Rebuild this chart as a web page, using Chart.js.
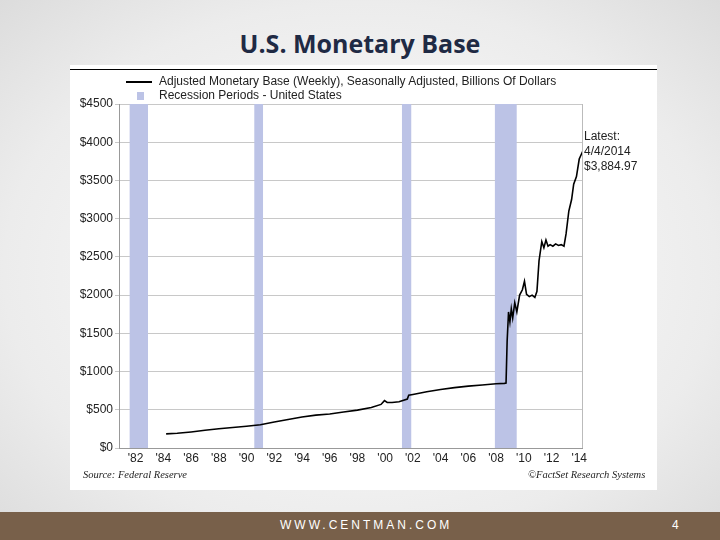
<!DOCTYPE html>
<html><head><meta charset="utf-8">
<script src="https://cdn.jsdelivr.net/npm/chart.js@4"></script>
<style>
body{margin:0;width:720px;height:540px;position:relative;overflow:hidden;font-family:"Liberation Sans",Arial,sans-serif;
 background:radial-gradient(ellipse at center,#ffffff 0%,#ececec 70%,#dcdcdc 100%);}
#title{position:absolute;top:26px;left:0;width:720px;text-align:center;font-family:"Open Sans","Noto Sans",sans-serif;font-weight:bold;font-size:25px;color:#1f2a44;}
#box{position:absolute;left:70px;top:65px;width:587px;height:425px;background:#fff;}
#topline{position:absolute;left:0;top:4px;width:587px;height:1px;background:#000;}
canvas{position:absolute;left:0;top:0;}
.leg{position:absolute;font-size:12px;color:#222;}
.src{position:absolute;top:404px;font-family:"Liberation Serif",serif;font-style:italic;font-size:10.5px;color:#222;}
#latest{position:absolute;left:514px;top:64px;font-size:12px;color:#222;line-height:15px;}
#bar{position:absolute;left:0;top:512px;width:720px;height:28px;background:#78604a;}
#bar div{position:absolute;top:6px;color:#fff;font-size:12px;}
</style></head><body>
<div id="title">U.S. Monetary Base</div>
<div id="box">
 <div id="topline"></div>
 <canvas id="c" width="587" height="425"></canvas>
 <div style="position:absolute;left:56px;top:16px;width:26px;height:1.5px;background:#000"></div>
 <div class="leg" style="left:89px;top:9px">Adjusted Monetary Base (Weekly), Seasonally Adjusted, Billions Of Dollars</div>
 <div style="position:absolute;left:67px;top:27px;width:7px;height:8px;background:#bcc3e6"></div>
 <div class="leg" style="left:89px;top:23px">Recession Periods - United States</div>
 <div id="latest">Latest:<br>4/4/2014<br>$3,884.97</div>
 <div class="src" style="left:13px">Source: Federal Reserve</div>
 <div class="src" style="left:458px">©FactSet Research Systems</div>
</div>
<div id="bar"><div style="left:280px;letter-spacing:3px">WWW.CENTMAN.COM</div><div style="left:672px">4</div></div>
<script>
const years = [1984.2,1985,1986,1987,1988,1989,1990,1991,1992,1993,1994,1995,1996,1997,1998,1999,1999.7,1999.95,2000.15,2000.5,2001,2001.6,2001.7,2002,2003,2004,2005,2006,2007,2008,2008.6,2008.72,2008.8,2008.9,2009.0,2009.1,2009.2,2009.35,2009.5,2009.7,2009.9,2010.05,2010.2,2010.4,2010.6,2010.8,2010.95,2011.1,2011.3,2011.45,2011.6,2011.75,2011.9,2012.1,2012.3,2012.5,2012.7,2012.9,2013.05,2013.25,2013.45,2013.6,2013.8,2014.0,2014.26];
const base = [185,192,210,232,252,268,285,305,340,372,405,430,445,470,495,530,570,620,595,595,605,640,690,700,735,765,790,810,825,840,845,850,1400,1780,1650,1820,1700,1900,1780,2000,2070,2180,2010,1980,2000,1970,2050,2450,2700,2620,2720,2640,2660,2640,2670,2650,2660,2640,2800,3100,3250,3450,3550,3780,3885];
const recessions = [[1981.55,1982.9],[1990.55,1991.2],[2001.2,2001.9],[2007.9,2009.5]];
const yTicks = [0,500,1000,1500,2000,2500,3000,3500,4000,4500];
const xTicks = [1982,1984,1986,1988,1990,1992,1994,1996,1998,2000,2002,2004,2006,2008,2010,2012,2014];

const recSets = recessions.map(r => ({type:'line',data:[{x:r[0],y:4500},{x:r[1],y:4500}],
  fill:'origin',backgroundColor:'#bcc3e6',borderWidth:0,pointRadius:0,order:2}));
new Chart(document.getElementById('c'), {
  type:'line',
  data:{datasets:[{data:years.map((x,i)=>({x,y:base[i]})),borderColor:'#000',borderWidth:1.6,pointRadius:0,tension:0,fill:false,order:1}].concat(recSets)},
  options:{responsive:false,animation:false,
    layout:{padding:{top:39,right:75,bottom:0,left:0}},
    plugins:{legend:{display:false},tooltip:{enabled:false}},
    scales:{
      x:{type:'linear',min:1980.8,max:2014.2,
        afterBuildTicks:s=>{s.ticks=xTicks.map(v=>({value:v}));},
        afterFit:s=>{s.height=42;},
        grid:{display:false,drawTicks:true,tickLength:3},border:{color:'#999'},
        ticks:{font:{size:12,family:'Liberation Sans'},color:'#222',maxRotation:0,autoSkip:false,padding:0,
          callback:v=>"'"+String(v).slice(2)}},
      y:{min:0,max:4500,
        afterBuildTicks:s=>{s.ticks=yTicks.map(v=>({value:v}));},
        afterFit:s=>{s.width=49;},
        grid:{color:'#c8c8c8',drawTicks:true,tickLength:4},border:{color:'#999'},
        ticks:{font:{size:12,family:'Liberation Sans'},color:'#222',padding:2,callback:v=>'$'+v}}
    }},
  plugins:[{id:'rb',afterDraw(c){const a=c.chartArea,x=c.ctx;x.save();x.strokeStyle='#bbb';x.beginPath();x.moveTo(a.right+0.5,a.top);x.lineTo(a.right+0.5,a.bottom);x.stroke();x.restore();}}]
});
</script>
</body></html>
